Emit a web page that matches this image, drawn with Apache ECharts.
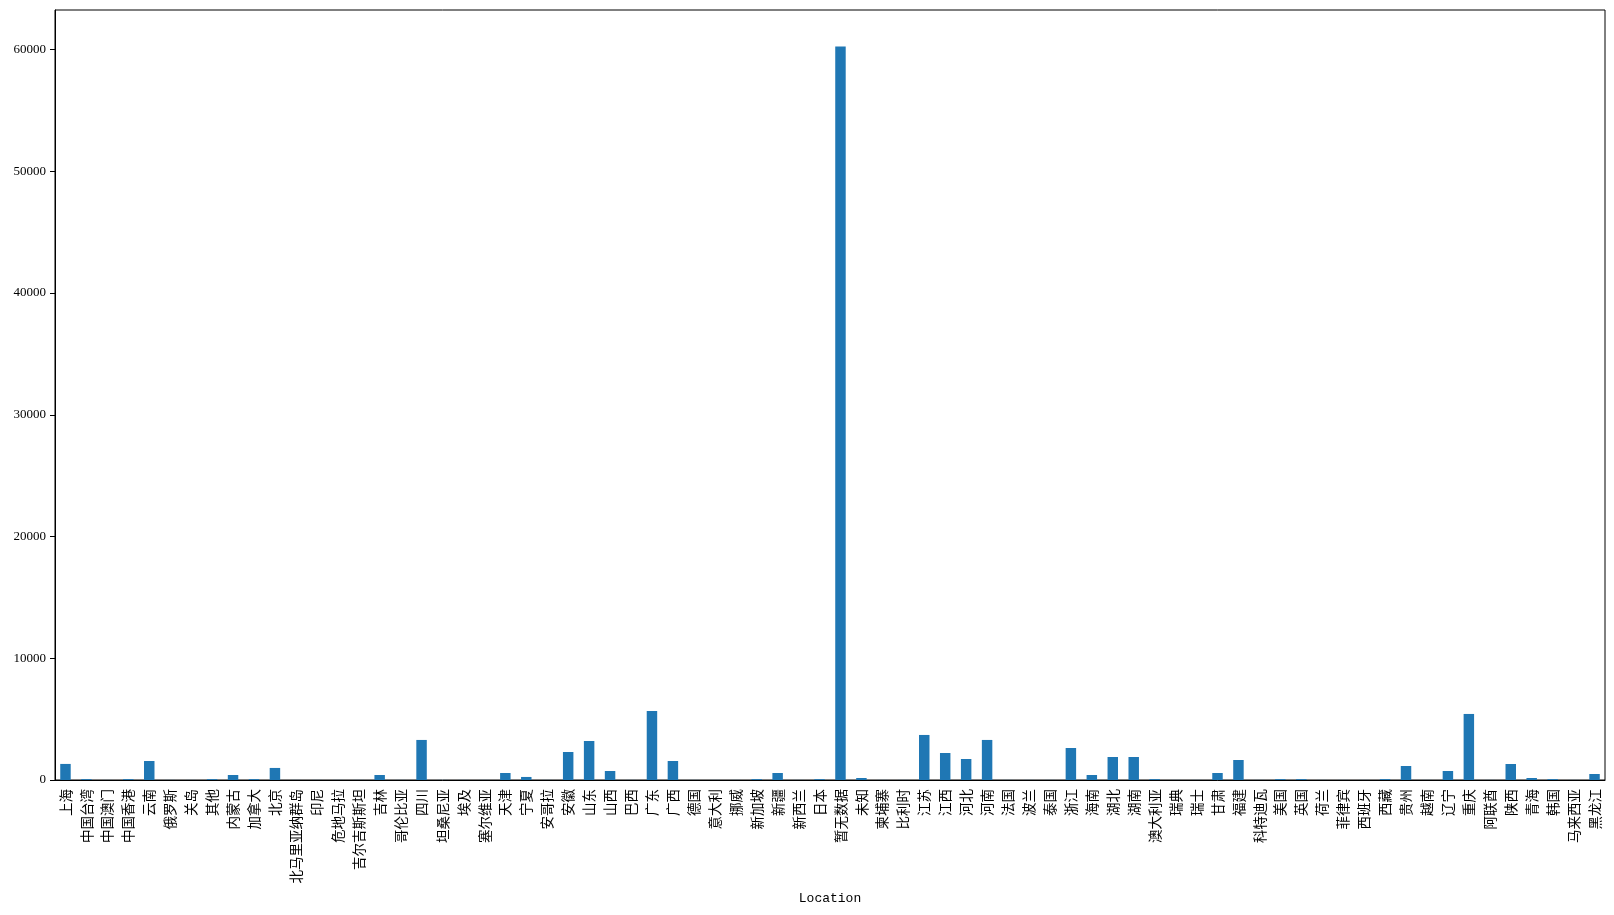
<!DOCTYPE html>
<html>
<head>
<meta charset="utf-8">
<script src="https://cdn.jsdelivr.net/npm/echarts@6/dist/echarts.min.js"></script>
<style>html,body{margin:0;padding:0;background:#fff;}#c{width:1614px;height:915px;}</style>
</head>
<body>
<div id="c"></div>
<script>
const categories = ['上海','中国台湾','中国澳门','中国香港','云南','俄罗斯','关岛','其他','内蒙古','加拿大','北京','北马里亚纳群岛','印尼','危地马拉','吉尔吉斯斯坦','吉林','哥伦比亚','四川','坦桑尼亚','埃及','塞尔维亚','天津','宁夏','安哥拉','安徽','山东','山西','巴西','广东','广西','德国','意大利','挪威','新加坡','新疆','新西兰','日本','暂无数据','未知','柬埔寨','比利时','江苏','江西','河北','河南','法国','波兰','泰国','浙江','海南','湖北','湖南','澳大利亚','瑞典','瑞士','甘肃','福建','科特迪瓦','美国','英国','荷兰','菲律宾','西班牙','西藏','贵州','越南','辽宁','重庆','阿联酋','陕西','青海','韩国','马来西亚','黑龙江'];
const values = [1320,70,5,70,1560,5,5,70,410,70,990,5,5,5,5,410,5,3290,5,5,5,575,250,5,2300,3205,740,5,5670,1560,5,5,5,70,575,5,70,60250,165,5,5,3700,2220,1725,3290,5,5,5,2630,410,1890,1890,70,5,5,575,1645,5,70,70,5,5,5,70,1150,5,740,5425,5,1315,165,70,5,495];
const yTicks = {min:0, max:63250, interval:10000};
const xName = 'Location';

const chart = echarts.init(document.getElementById('c'));
chart.setOption({
  animation:false,
  grid:{left:55,right:9,top:10,bottom:135,show:true,borderColor:'#000',borderWidth:1,backgroundColor:'transparent'},
  xAxis:{
    type:'category', data:categories, name:xName, nameLocation:'middle', nameGap:112,
    nameTextStyle:{fontFamily:'Liberation Mono',fontSize:13,color:'#000'},
    axisLine:{lineStyle:{color:'#000',width:1}},
    axisTick:{alignWithLabel:true,length:5,lineStyle:{color:'#000'}},
    axisLabel:{rotate:90,interval:0,margin:9,fontFamily:'Noto Sans CJK SC',fontSize:13.5,color:'#000'}
  },
  yAxis:{
    type:'value', min:yTicks.min, max:yTicks.max, interval:yTicks.interval,
    splitLine:{show:false},
    axisLine:{show:true,lineStyle:{color:'#000',width:1}},
    axisTick:{show:true,length:5,lineStyle:{color:'#000'}},
    axisLabel:{showMaxLabel:false,margin:9,fontFamily:'Liberation Serif',fontSize:13,color:'#000',formatter:function(v){return String(v);}}
  },
  series:[{type:'bar',data:values,barWidth:'50%',itemStyle:{color:'#1f77b4'}}]
});
</script>
</body>
</html>
